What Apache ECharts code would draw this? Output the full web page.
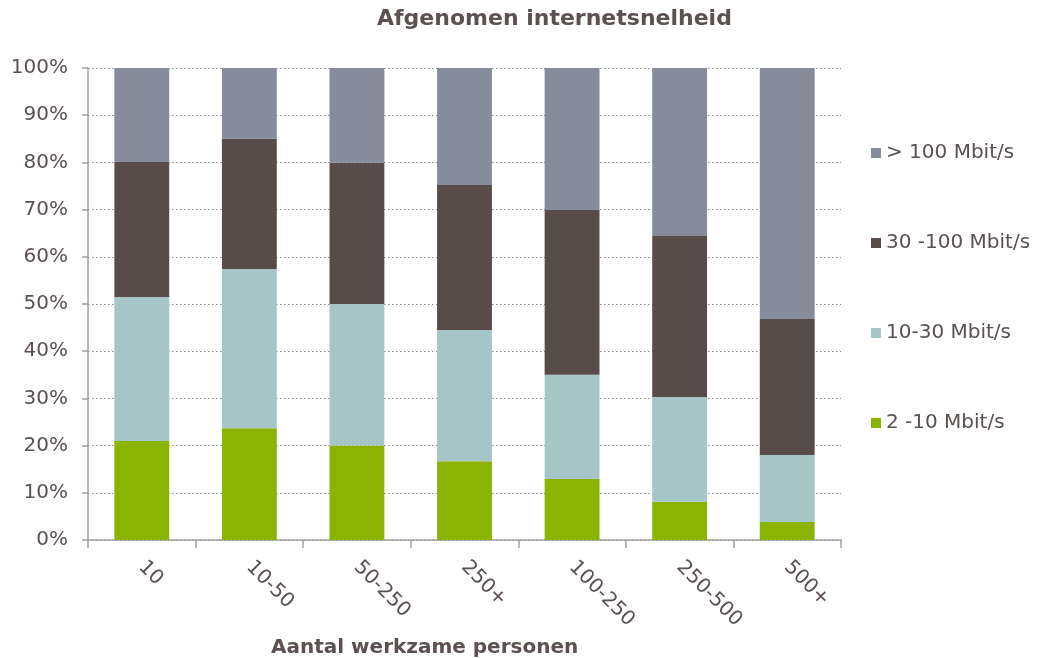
<!DOCTYPE html>
<html><head><meta charset="utf-8">
<script src="https://cdn.jsdelivr.net/npm/echarts@6/dist/echarts.min.js"></script>
<style>html,body{margin:0;padding:0;background:#fff}#c{width:1041px;height:658px}</style>
</head><body><div id="c"></div>
<script>
const categories = ['10','10-50','50-250','250+','100-250','250-500','500+'];
const s2_10 = [21.0, 23.7, 20.0, 16.7, 12.9, 8.1, 3.8];
const s10_30 = [30.5, 33.7, 30.0, 27.8, 22.1, 22.2, 14.2];
const s30_100 = [28.6, 27.6, 29.9, 30.7, 34.9, 34.1, 28.8];
const s100 = [19.9, 15.0, 20.1, 24.8, 30.1, 35.6, 53.2];
const seriesNames = ['2 -10 Mbit/s','10-30 Mbit/s','30 -100 Mbit/s','> 100 Mbit/s'];
const yTicks = [0,10,20,30,40,50,60,70,80,90,100];

const txt = '#5a5150';
const font = '"DejaVu Sans"';
const chart = echarts.init(document.getElementById('c'));
const mk = (name, data, color) => ({name, type:'bar', stack:'a', data, barWidth:'51%', itemStyle:{color}});
chart.setOption({
  animation:false,
  textStyle:{fontFamily:font},
  title:[
    {text:'Afgenomen internetsnelheid', left:372, top:3, textStyle:{fontFamily:font, fontSize:22, fontWeight:'bold', color:txt}},
    {text:'Aantal werkzame personen', left:266, top:633, textStyle:{fontFamily:font, fontSize:20, fontWeight:'bold', color:txt}}
  ],
  legend:{orient:'vertical', left:866, top:138, itemWidth:10, itemHeight:10, itemGap:70,
    icon:'rect',
    data:['> 100 Mbit/s','30 -100 Mbit/s','10-30 Mbit/s','2 -10 Mbit/s'],
    textStyle:{fontFamily:font, fontSize:20, color:txt}},
  grid:{left:88, right:200, top:68, bottom:118},
  xAxis:{type:'category', data:categories,
    axisLine:{lineStyle:{color:'#a0a0a0', width:1.5}},
    axisTick:{show:true, length:8, lineStyle:{color:'#a0a0a0', width:1.5}},
    axisLabel:{rotate:-45, fontFamily:font, fontSize:20, color:txt, margin:24}},
  yAxis:{type:'value', min:0, max:100, interval:10,
    axisLine:{show:true, lineStyle:{color:'#a0a0a0', width:1.5}},
    axisTick:{show:true, length:6, lineStyle:{color:'#a0a0a0', width:1.5}},
    splitLine:{lineStyle:{type:[1.5,2.5], color:'#8a8a8a', width:1}},
    axisLabel:{formatter: v => yTicks.includes(v) ? v + '%' : '', fontFamily:font, fontSize:20, color:txt, margin:20}},
  series:[
    mk(seriesNames[0], s2_10, '#8ab400'),
    mk(seriesNames[1], s10_30, '#a5c5c7'),
    mk(seriesNames[2], s30_100, '#584c4a'),
    mk(seriesNames[3], s100, '#878c9a')
  ]
});
</script></body></html>
